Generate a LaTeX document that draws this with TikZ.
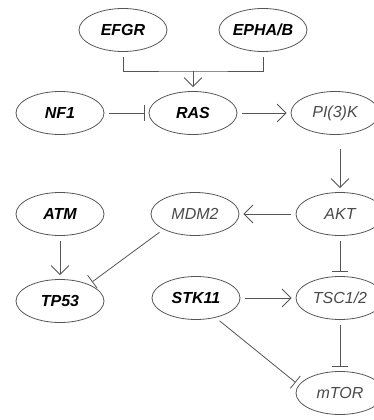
\documentclass[tikz,border=0pt]{standalone}
\usepackage{fontspec}
\setmainfont{Liberation Sans}
\usetikzlibrary{arrows.meta, shapes.geometric}
\definecolor{mLine}{HTML}{555555}
\definecolor{mText}{HTML}{4A4A4A}

\begin{document}
\begin{tikzpicture}[x=1pt, y=-1pt, line width=0.8pt,
      gene/.style={ellipse, draw=mLine, minimum width=88pt, minimum height=43pt, inner sep=0pt,
        font=\fontsize{16}{16}\selectfont\bfseries\itshape},
      prot/.style={gene, font=\fontsize{16}{16}\selectfont\itshape, text=mText},
      act/.style={-{Straight Barb[length=9pt, width=18pt]}, draw=mLine, shorten <=5pt, shorten >=4pt},
      inh/.style={-{Bar[width=16pt]}, draw=mLine, shorten <=5pt, shorten >=4pt}]
    \useasboundingbox (0,0) rectangle (373,420);
    % nodes
    \foreach \n/\t/\x/\y in {efgr/EFGR/123/30, epha/EPHA\slash B/263/30, nf1/NF1/60/113,
        ras/RAS/193/113, atm/ATM/60/214, tp53/TP53/60/301, stk/STK11/196/298}
      \node[gene] (\n) at (\x,\y) {\t};
    \foreach \n/\t/\x/\y in {pik/PI(3)K/335/113, mdm/MDM2/195/214, akt/AKT/340/214,
        tsc/TSC1\slash 2/340/298, mtor/mTOR/340/393}
      \node[prot] (\n) at (\x,\y) {\t};
    % receptors into RAS
    \coordinate (jn) at (193,71);
    \draw[mLine, shorten <=5pt, shorten >=5pt] (efgr.south) |- (jn) -| (epha.south);
    \draw[act, shorten <=0pt] (jn) -- (ras);
    % edges
    \draw[inh] (nf1) -- (ras);
    \draw[act] (ras) -- (pik);
    \draw[act, shorten <=14pt] (pik.south -| akt) -- (akt);
    \draw[act] (akt) -- (mdm);
    \draw[act] (atm) -- (tp53);
    \draw[inh] (mdm.206) -- (tp53.30);
    \draw[inh] (akt) -- (tsc);
    \draw[act] (stk) -- (tsc);
    \draw[inh] (tsc) -- (mtor);
    \draw[inh] (stk.-45) -- (mtor.169);
  \end{tikzpicture}
\end{document}
